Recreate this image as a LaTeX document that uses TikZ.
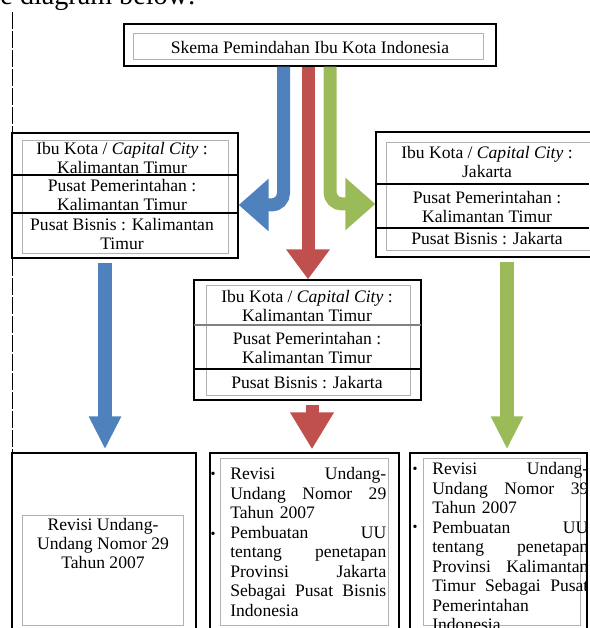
\documentclass[tikz,border=0pt]{standalone}
\usepackage{fontspec}
\setmainfont{Liberation Serif}
\usetikzlibrary{arrows.meta,fit}
\definecolor{biru}{RGB}{79,129,189}
\definecolor{merah}{RGB}{192,80,77}
\definecolor{hijau}{RGB}{155,187,89}

\begin{document}
\begin{tikzpicture}[x=0.025cm, y=-0.025cm,
    kotak/.style = {draw, line width=1pt, inner sep=0pt},
    dalam/.style = {draw=gray!60, line width=0.5pt, inner sep=0pt},
    garis/.style = {line width=0.8pt},
    isi/.style = {align=center, inner sep=0pt, font=\fontsize{12.5}{13.5}\selectfont},
    daftar/.style = {align=left, inner sep=0pt, text width=3.9cm, anchor=north west, font=\fontsize{12.5}{13.9}\selectfont},
    titik/.style = {inner sep=0pt, font=\fontsize{10}{10}\selectfont},
    panah/.style = {line width=0.325cm, rounded corners=0.3cm, -{Triangle[length=0.75cm, width=1.27cm]}},
    panahbawah/.style = {line width=0.35cm, shorten <=0.1cm, shorten >=0.075cm, -{Triangle[length=0.82cm, width=0.75cm]}}]
  \useasboundingbox (0,0) rectangle (589,628);
  \node[anchor=base east, inner sep=0pt, font=\fontsize{20}{20}\selectfont] (pengantar) at (196,5) {the diagram below:};
  \draw[dash pattern=on 12pt off 1.5pt, line width=0.6pt] (12,12) -- (12,628);

  \node[kotak, fit={(124,24) (496,66)}] (judul) {};
  \node[dalam, fit={(133,33) (483,59)}] (juduldalam) {};
  \node[isi] (judulteks) at (310,47) {Skema Pemindahan Ibu Kota Indonesia};

  \node[kotak, fit={(12,133) (238,258)}] (kiri) {};
  \node[dalam, fit={(22,140) (228,253)}] (kiridalam) {};
  \draw[garis] (12,175) -- (238,175);
  \draw[garis] (12,213) -- (238,213);
  \node[isi] (kiri1) at (122,158) {Ibu Kota / \textit{Capital City} :\\Kalimantan Timur};
  \node[isi] (kiri2) at (122,195) {Pusat Pemerintahan :\\Kalimantan Timur};
  \node[isi] (kiri3) at (122,234) {Pusat Bisnis : Kalimantan\\Timur};

  \node[kotak, fit={(376,132) (596,257)}] (kanan) {};
  \node[dalam, fit={(386,142) (596,250)}] (kanandalam) {};
  \draw[garis] (376,184) -- (589,184);
  \draw[garis] (376,228) -- (589,228);
  \node[isi] (kanan1) at (487,162) {Ibu Kota / \textit{Capital City} :\\Jakarta};
  \node[isi] (kanan2) at (487,207) {Pusat Pemerintahan :\\Kalimantan Timur};
  \node[isi] (kanan3) at (487,239) {Pusat Bisnis : Jakarta};

  \node[kotak, fit={(194,280) (421,400)}] (tengah) {};
  \node[dalam, fit={(206,285) (410,395)}] (tengahdalam) {};
  \draw[garis, gray] (194,325) -- (421,325);
  \draw[garis] (194,369) -- (421,369);
  \node[isi] (tengah1) at (307,306) {Ibu Kota / \textit{Capital City} :\\Kalimantan Timur};
  \node[isi] (tengah2) at (307,348) {Pusat Pemerintahan :\\Kalimantan Timur};
  \node[isi] (tengah3) at (307,383) {Pusat Bisnis : Jakarta};

  \node[kotak, fit={(12,453) (196,640)}] (bawahkiri) {};
  \node[dalam, fit={(22,515) (183,625)}] (bawahkiridalam) {};
  \node[isi] (bawahkiriteks) at (103,543) {Revisi Undang-\\Undang Nomor 29\\Tahun 2007};

  \node[kotak, fit={(210,453) (399,640)}] (bawahtengah) {};
  \node[dalam, fit={(220,458) (388,625)}] (bawahtengahdalam) {};
  \node[titik] (titiktengah1) at (213,475) {\textbullet};
  \node[titik] (titiktengah2) at (213,535) {\textbullet};
  \node[daftar] (bawahtengahteks) at (230,467) {Revisi\hfill Undang-\\Undang\hfill Nomor\hfill 29\\Tahun 2007\\Pembuatan\hfill UU\\tentang\hfill penetapan\\Provinsi\hfill Jakarta\\Sebagai\hfill Pusat\hfill Bisnis\\Indonesia};

  \node[kotak, fit={(410,453) (587,640)}] (bawahkanan) {};
  \node[dalam, fit={(423,458) (580,625)}] (bawahkanandalam) {};
  \node[titik] (titikkanan1) at (415,470) {\textbullet};
  \node[titik] (titikkanan2) at (415,528) {\textbullet};
  \node[daftar] (bawahkananteks) at (432,462) {Revisi\hfill Undang-\\Undang\hfill Nomor\hfill 39\\Tahun 2007\\Pembuatan\hfill UU\\tentang\hfill penetapan\\Provinsi\hfill Kalimantan\\Timur\hfill Sebagai\hfill Pusat\\Pemerintahan\\Indonesia};

  \draw[panah, biru] (judul.south -| 283.5,0) |- (kiri.east |- 0,205);
  \draw[panah, hijau] (judul.south -| 330,0) |- (kanan.west |- 0,204);
  \draw[panah, merah, -{Triangle[length=0.75cm, width=1.05cm]}] (judul.south -| 308,0) -- (tengah.north -| 308,0);
  \draw[panahbawah, biru] (kiri.south -| 105,0) -- (bawahkiri.north -| 105,0);
  \draw[panahbawah, hijau] (kanan.south -| 507,0) -- (bawahkanan.north -| 507,0);
  \draw[panahbawah, merah, line width=0.325cm, -{Triangle[length=0.92cm, width=1.03cm]}] (tengah.south -| 312,0) -- (bawahtengah.north -| 312,0);
\end{tikzpicture}
\end{document}
